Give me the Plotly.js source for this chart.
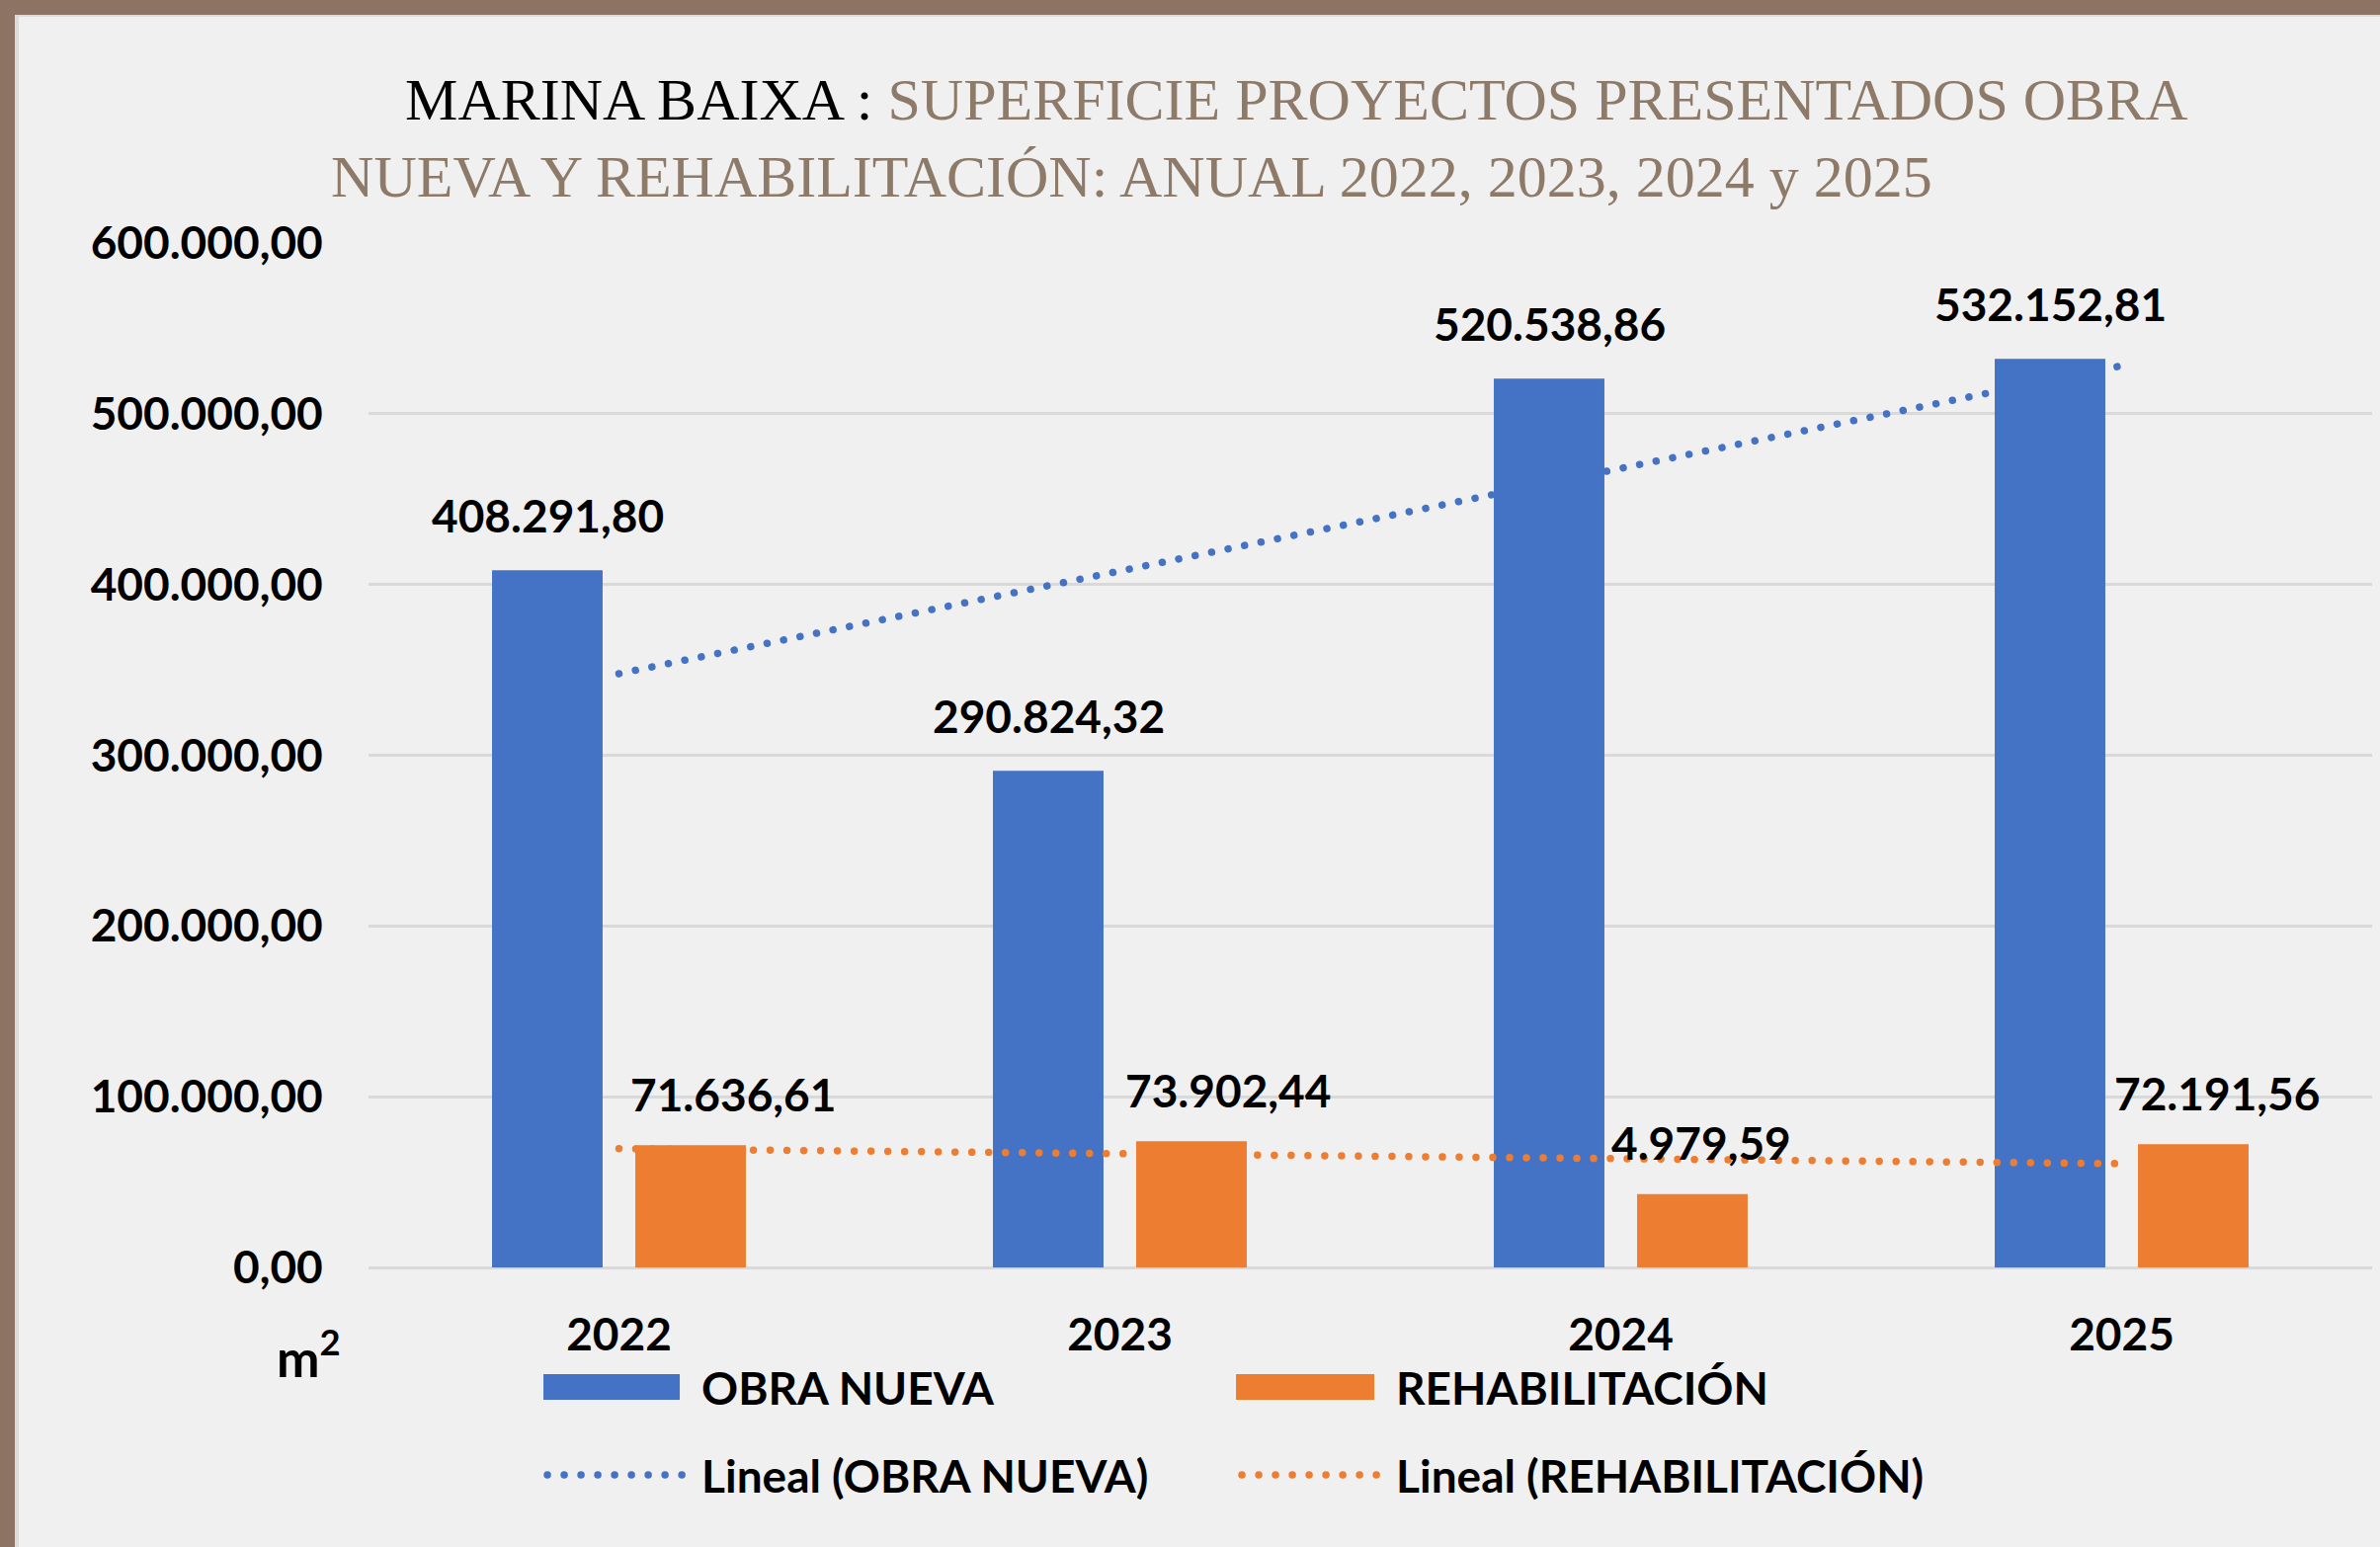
<!DOCTYPE html>
<html><head><meta charset="utf-8">
<script src="https://cdn.plot.ly/plotly-3.0.1.min.js"></script>
<style>
html,body{margin:0;padding:0;background:#f0f0f0;overflow:hidden}
#chart{position:absolute;left:0;top:0;width:2409px;height:1566px}
.frame{position:absolute;pointer-events:none}
#bt{left:0;top:0;width:2409px;height:15px;background:#8c7364}
#bl{left:0;top:0;width:15px;height:1566px;background:#8c7364}
#lt{left:15px;top:15px;width:2394px;height:2px;background:#dcdcdc}
#ll{left:15px;top:15px;width:4px;height:1551px;background:#dcdcdc}
</style></head><body>
<div id="chart"></div>
<div class="frame" id="lt"></div><div class="frame" id="ll"></div>
<div class="frame" id="bt"></div><div class="frame" id="bl"></div>
<script>
// ---- data ----
const years = ['2022', '2023', '2024', '2025'];
const obraNueva = [408291.80, 290824.32, 520538.86, 532152.81];
const rehabilitacion = [71636.61, 73902.44, 42979.59, 72191.56];
const obraNuevaLabels = ['408.291,80', '290.824,32', '520.538,86', '532.152,81'];
const rehabLabels = ['71.636,61', '73.902,44', '4.979,59', '72.191,56'];
const seriesNames = ['OBRA NUEVA', 'REHABILITACIÓN', 'Lineal (OBRA NUEVA)', 'Lineal (REHABILITACIÓN)'];

// ---- styles ----
const BLUE = '#4472C4', ORANGE = '#ED7D31', BROWN = '#8e7a69';
const SANS = 'Lato';
const FS = 46;
const SLOT = 72.5;                 // half bar slot offset (px)
const rehabLabelDx = [43, 37, 9, 24];
const labelDy = 56;

// Excel-style linear trendline (least squares on x = 1..n)
function linearFit(v) {
  const n = v.length, mx = (n + 1) / 2;
  const my = v.reduce((a, b) => a + b, 0) / n;
  let sxy = 0, sxx = 0;
  v.forEach((y, i) => { const x = i + 1; sxy += (x - mx) * (y - my); sxx += (x - mx) * (x - mx); });
  const b = sxy / sxx;
  return v.map((_, i) => my + b * (i + 1 - mx));
}

const font = {family: SANS, size: FS, color: '#000', weight: 700};

const data = [
  {type: 'bar', name: seriesNames[0], x: years, y: obraNueva, marker: {color: BLUE}, legend: 'legend', hoverinfo: 'skip'},
  {type: 'bar', name: seriesNames[1], x: years, y: rehabilitacion, marker: {color: ORANGE}, legend: 'legend', hoverinfo: 'skip'},
  {type: 'scatter', mode: 'lines', name: seriesNames[2], x: years, y: linearFit(obraNueva),
   line: {color: BLUE, width: 7.5, dash: '7px,10px'}, legend: 'legend2', hoverinfo: 'skip'},
  {type: 'scatter', mode: 'lines', name: seriesNames[3], x: years, y: linearFit(rehabilitacion),
   line: {color: ORANGE, width: 7.5, dash: '7px,10px'}, legend: 'legend2', hoverinfo: 'skip'}
];

const annotations = [];
years.forEach((yr, i) => {
  annotations.push({x: i, y: obraNueva[i], xref: 'x', yref: 'y', text: obraNuevaLabels[i], showarrow: false,
    xshift: -SLOT, yshift: labelDy, xanchor: 'center', yanchor: 'middle', font: font});
  annotations.push({x: i, y: rehabilitacion[i], xref: 'x', yref: 'y', text: rehabLabels[i], showarrow: false,
    xshift: SLOT + rehabLabelDx[i], yshift: labelDy - 4, xanchor: 'center', yanchor: 'middle', font: font});
});
annotations.push({x: -0.0296, y: -0.084, xref: 'paper', yref: 'paper', text: 'm<sup>2</sup>', showarrow: false,
  xanchor: 'center', yanchor: 'middle', font: {family: SANS, size: 52, color: '#000', weight: 700}});

const nb = '&nbsp;'.repeat(5);
const legendBase = {orientation: 'h', x: 0.0873, xanchor: 'left', yanchor: 'top', itemwidth: 150,
  entrywidth: 538, entrywidthmode: 'pixels', font: font, bgcolor: 'rgba(0,0,0,0)', traceorder: 'normal'};

const layout = {
  width: 2409, height: 1566,
  paper_bgcolor: '#f0f0f0', plot_bgcolor: '#f0f0f0',
  margin: {l: 373, r: 8, t: 246, b: 283, pad: 0},
  separators: ',.',
  barmode: 'group', bargap: 0.428, bargroupgap: 0.228,
  title: {
    text: nb + 'MARINA BAIXA : <span style="color:' + BROWN + '">SUPERFICIE PROYECTOS PRESENTADOS OBRA</span><br>' +
          '<span style="color:' + BROWN + '">NUEVA Y REHABILITACIÓN: ANUAL 2022, 2023, 2024 y 2025</span>',
    font: {family: 'Liberation Serif', size: 60, color: '#000'},
    xref: 'container', yref: 'container', x: 0.1391, xanchor: 'left', y: 0.923, yanchor: 'top'
  },
  xaxis: {type: 'category', range: [-0.5, years.length - 0.5], autorange: false,
    tickfont: font, ticks: 'outside', ticklen: 28, tickcolor: 'rgba(0,0,0,0)',
    showgrid: false, showline: false, zeroline: false},
  yaxis: {range: [0, 600000], autorange: false, dtick: 100000, tickformat: ',.2f', tickfont: font,
    gridcolor: '#d9d9d9', gridwidth: 3, zeroline: true, zerolinecolor: '#d9d9d9', zerolinewidth: 3,
    ticks: 'outside', ticklen: 36, tickcolor: 'rgba(0,0,0,0)', showline: false},
  legend: Object.assign({}, legendBase, {y: -0.0816}),
  legend2: Object.assign({}, legendBase, {y: -0.1674}),
  annotations: annotations,
  showlegend: true
};

function restyleSwatches() {
  const gd = document.getElementById('chart');
  gd.querySelectorAll('.legendpoints path').forEach(function (p) {
    const d = p.getAttribute('d') || '';
    if (d.indexOf('V-6') >= 0 || p.classList.contains('legendbar')) {
      p.setAttribute('d', 'M-2,-13H138V13H-2Z');
      p.removeAttribute('transform');
    }
  });
  gd.querySelectorAll('.legendlines path').forEach(function (p) {
    p.setAttribute('d', 'M4,0H142');
    p.removeAttribute('transform');
    p.style.strokeWidth = '7.5px';
  });
  gd.querySelectorAll('.scatterlayer .js-line, .legendlines path').forEach(function (p) {
    p.style.strokeLinecap = 'round';
    p.style.strokeDasharray = '0.01px,17px';
  });
}

Plotly.newPlot('chart', data, layout, {staticPlot: true, displayModeBar: false}).then(function () {
  restyleSwatches();
  setTimeout(restyleSwatches, 50);
  setTimeout(restyleSwatches, 300);
});
</script>
</body></html>
